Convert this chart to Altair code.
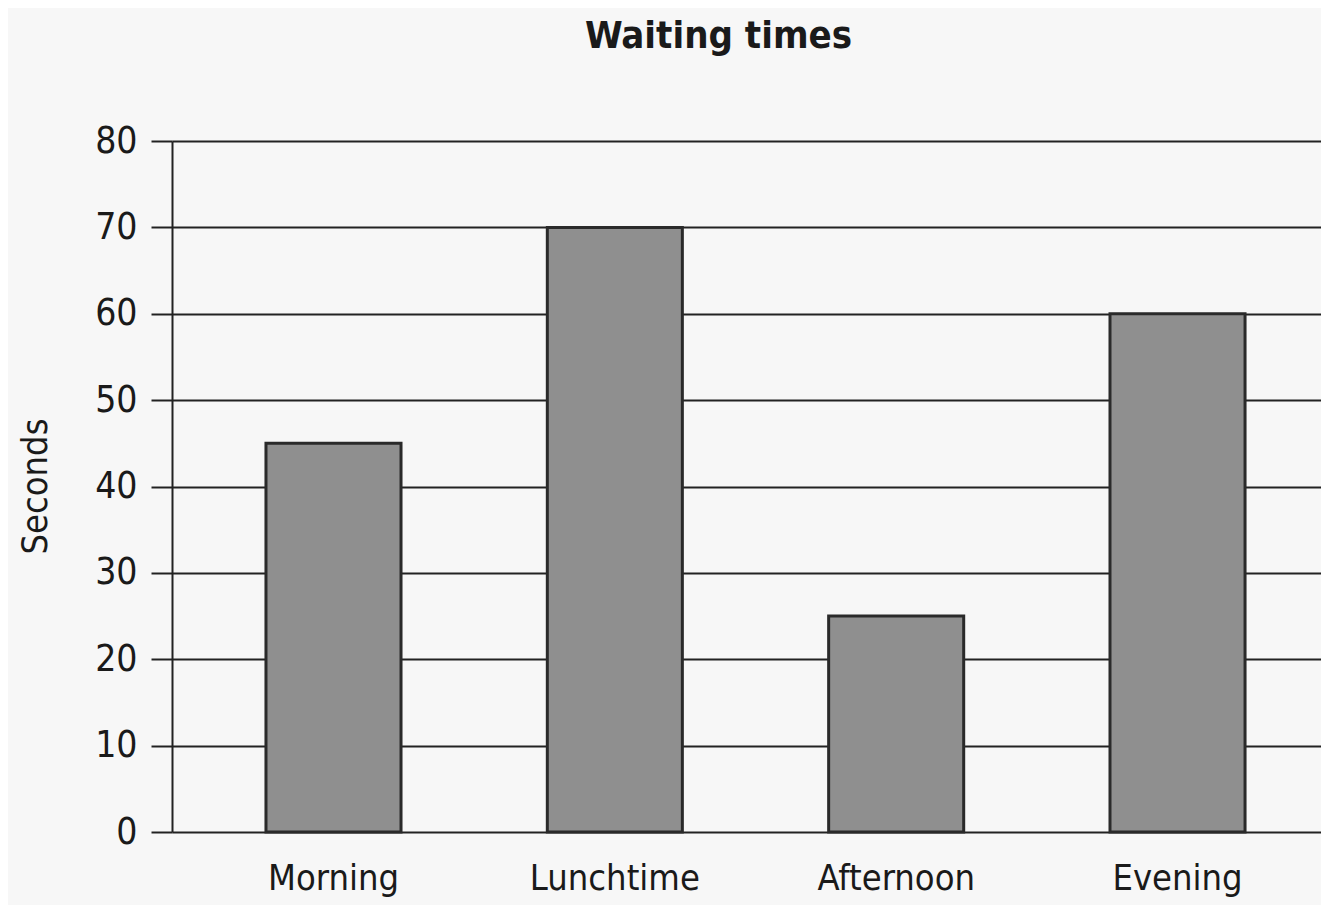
import altair as alt
import pandas as pd

categories = ["Morning", "Lunchtime", "Afternoon", "Evening"]
seconds = [45, 70, 25, 60]
y_ticks = [0, 10, 20, 30, 40, 50, 60, 70, 80]

df = pd.DataFrame({"period": categories, "seconds": seconds})

FONT = "Liberation Sans Narrow, DejaVu Sans Condensed, Arial Narrow, Liberation Sans, sans-serif"

chart = (
    alt.Chart(df)
    .mark_bar(color="#8f8f8f", stroke="#2a2a2a", strokeWidth=3)
    .encode(
        x=alt.X(
            "period:N",
            sort=categories,
            title=None,
            scale=alt.Scale(paddingInner=0.52, paddingOuter=0.302, align=0.553),
            axis=alt.Axis(
                labelAngle=0, labelFontSize=36, labelColor="#1a1a1a", labelFont=FONT,
                labelPadding=29, ticks=False, domain=False, grid=False,
            ),
        ),
        y=alt.Y(
            "seconds:Q",
            title="Seconds",
            scale=alt.Scale(domain=[0, 80], nice=False),
            axis=alt.Axis(
                values=y_ticks, labelFontSize=37, labelColor="#1a1a1a", labelFont=FONT,
                tickSize=21, tickColor="#222222", tickWidth=2, labelPadding=14,
                grid=True, gridColor="#222222", gridWidth=2,
                domain=True, domainColor="#222222", domainWidth=2,
                titleFontSize=36, titleFont=FONT, titleFontWeight="normal",
                titleColor="#1a1a1a", titleX=-118, titleY=345,
            ),
        ),
    )
    .properties(
        width=1149,
        height=691,
        autosize=alt.AutoSizeParams(type="none"),
        padding={"left": 164, "top": 133, "right": 0, "bottom": 73},
        background="#f7f7f7",
        title=alt.TitleParams(
            "Waiting times", fontSize=38, font=FONT, fontWeight="bold",
            color="#1a1a1a", anchor="middle", offset=66, dx=-28,
        ),
    )
    .configure_view(stroke=None, fill="#f7f7f7")
)

chart.save("out.html", embed_options={"renderer": "svg", "actions": False})
